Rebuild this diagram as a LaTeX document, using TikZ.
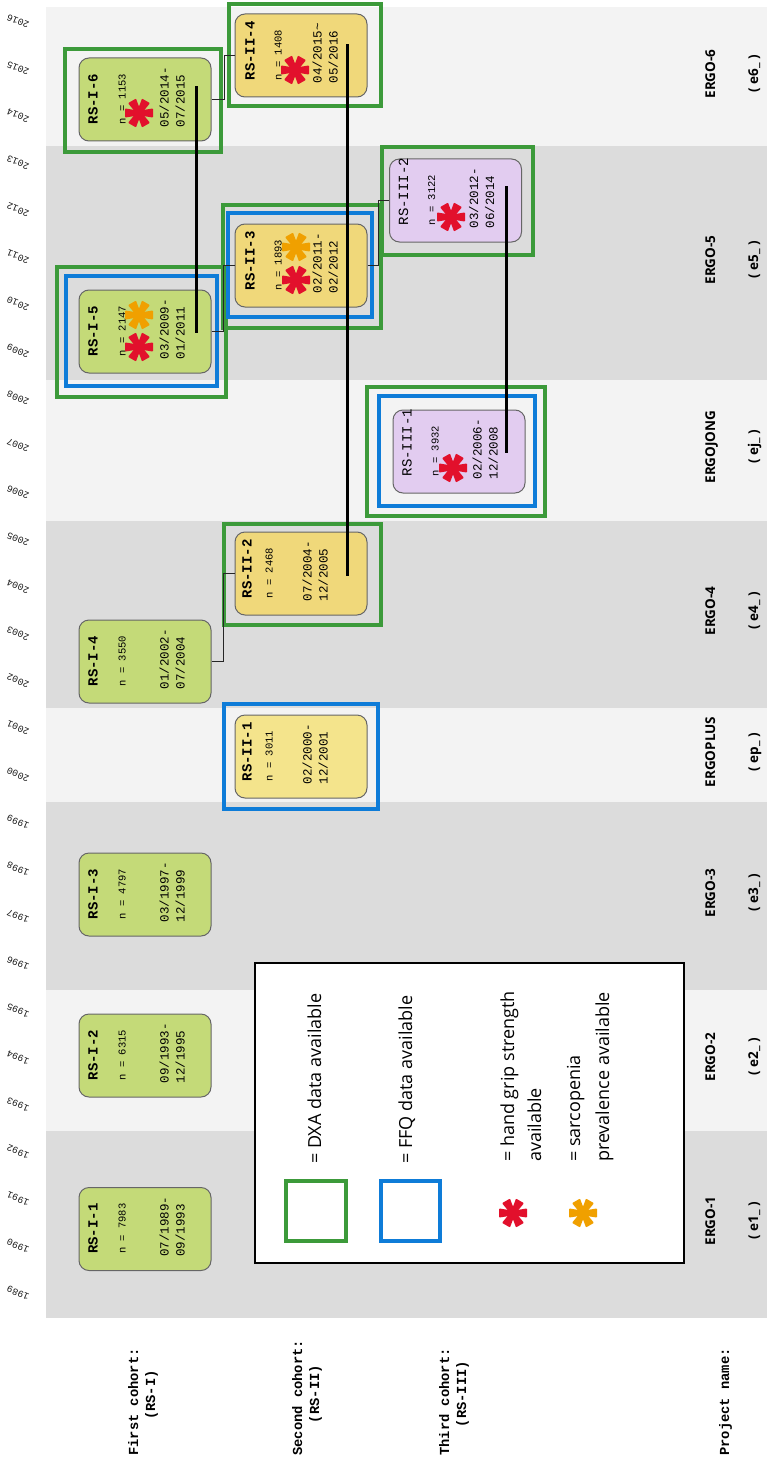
\documentclass[tikz,border=0pt]{standalone}
\usepackage{fontspec}
\setmonofont{Liberation Mono}
\newfontfamily\legendfont{Open Sans}
\usetikzlibrary{calc}
\definecolor{bandlight}{RGB}{243,243,243}
\definecolor{banddark}{RGB}{220,220,220}
\definecolor{rsIfill}{RGB}{196,218,120}
\definecolor{rsIIfill}{RGB}{240,216,122}
\definecolor{rsIIlight}{RGB}{244,228,140}
\definecolor{rsIIIfill}{RGB}{226,204,240}
\definecolor{dxagreen}{RGB}{60,154,58}
\definecolor{ffqblue}{RGB}{14,124,216}
\definecolor{gripred}{RGB}{226,16,44}
\definecolor{sarcoorange}{RGB}{240,160,0}
\tikzset{
  rsbox/.style={draw=black!60, line width=1pt, rounded corners=10pt,
    minimum width=132pt, minimum height=83pt, inner sep=0pt},
  boxtitle/.style={rotate=90, anchor=base west, inner sep=0pt,
    font=\ttfamily\bfseries\fontsize{14}{16}\selectfont},
  boxn/.style={rotate=90, anchor=base west, inner sep=0pt,
    font=\ttfamily\fontsize{10.5}{12}\selectfont},
  boxdate/.style={rotate=90, anchor=base west, inner sep=0pt,
    font=\ttfamily\fontsize{12.5}{14}\selectfont},
  yearlabel/.style={rotate=157, inner sep=0pt, text=black!90,
    font=\ttfamily\fontsize{9.6}{10}\selectfont},
  cohortlabel/.style={rotate=90, inner sep=0pt,
    font=\ttfamily\bfseries\fontsize{13.8}{16}\selectfont},
  projlabel/.style={rotate=90, anchor=base, inner sep=0pt,
    font=\legendfont\bfseries\fontsize{13.5}{16}\selectfont},
  legendtext/.style={rotate=90, anchor=base west, inner sep=0pt,
    font=\legendfont\fontsize{18}{22}\selectfont},
  dxa/.style={draw=dxagreen, line width=3.3pt},
  ffq/.style={draw=ffqblue, line width=3.3pt},
  elbow/.style={line width=1.2pt, black!85},
  cohortline/.style={line width=2.2pt, black},
  asterisk/.pic={
    \foreach \a in {0,60,...,300}
      \fill[rotate=\a, rounded corners=0.8pt] (0,-2.3) -- (14,-4.6) -- (14,4.6) -- (0,2.3) -- cycle;
  }
}
% line offsets inside a box
\def\offT{19}
\def\offN{47}
\def\offD{90}
\newcommand{\rsbox}[7]{%
  \node[rsbox, fill=#3] (#1) at (#2) {};
  \node[boxtitle] (#1-title) at ($(#1.south west)+(\offT,-17)$) {#4};
  \node[boxn] (#1-n) at ($(#1.south west)+(\offN,-17)$) {n = #5};
  \node[boxdate] (#1-d1) at ($(#1.south west)+(\offD,-14)$) {#6};
  \node[boxdate] (#1-d2) at ($(#1.south west)+(\offD+16,-14)$) {#7};
}

\begin{document}
\begin{tikzpicture}[x=1pt, y=-1pt]
  \useasboundingbox (0,0) rectangle (767,1458);

  % project bands
  \foreach \ya/\yb/\bandcol in {7/146/bandlight, 146/380/banddark, 380/521/bandlight,
      521/708/banddark, 708/802/bandlight, 802/990/banddark, 990/1131/bandlight, 1131/1318/banddark}
    \fill[\bandcol] (46,\ya) rectangle (767,\yb);

  % years
  \foreach \k in {0,...,27} {
    \pgfmathtruncatemacro{\yr}{1989+\k}
    \node[yearlabel] (y\yr) at (18,{1293-47.1*\k}) {\yr};
  }

  % project names
  \foreach \name/\code/\yc in {ERGO-1/e1/1221, ERGO-2/e2/1057, ERGO-3/e3/893, ERGOPLUS/ep/752,
      ERGO-4/e4/611, ERGOJONG/ej/447, ERGO-5/e5/260, ERGO-6/e6/74} {
    \node[projlabel] (p\code) at (715,\yc) {\name};
    \node[projlabel] (c\code) at (758,\yc) {( \code\_ )};
  }

  % cohort labels
  \node[cohortlabel, anchor=base west] (first) at (138,1456) {First cohort:};
  \node[cohortlabel, anchor=base] (firstrs) at (155,1395) {(RS-I)};
  \node[cohortlabel, anchor=base west] (second) at (302,1456) {Second cohort:};
  \node[cohortlabel, anchor=base] (secondrs) at (319,1394) {(RS-II)};
  \node[cohortlabel, anchor=base west] (third) at (449,1456) {Third cohort:};
  \node[cohortlabel, anchor=base] (thirdrs) at (466,1394) {(RS-III)};
  \node[cohortlabel, anchor=base west] (project) at (729,1456) {Project name:};

  % legend
  \draw[line width=2pt, fill=white] (255,963) rectangle (684,1263);
  \draw[dxa] (286,1181) rectangle (346,1241);
  \draw[ffq] (381,1181) rectangle (440,1241);
  \pic[gripred] at (513,1213) {asterisk};
  \pic[sarcoorange] at (583,1213) {asterisk};
  \node[legendtext] (lgdxa) at (321,1164) {= DXA data available};
  \node[legendtext] (lgffq) at (412,1164) {= FFQ data available};
  \node[legendtext] (lggrip) at (514,1162) {= hand grip strength};
  \node[legendtext] (lggrip2) at (541,1162) {available};
  \node[legendtext] (lgsarc) at (580,1162) {= sarcopenia};
  \node[legendtext] (lgsarc2) at (609,1162) {prevalence available};

  % DXA / FFQ frames
  \draw[dxa] (57,267) rectangle (226,397);
  \draw[dxa] (65,49) rectangle (221,152);
  \draw[dxa] (229,4) rectangle (381,106);
  \draw[dxa] (223,205) rectangle (381,328);
  \draw[dxa] (224,524) rectangle (381,625);
  \draw[dxa] (382,147) rectangle (533,255);
  \draw[dxa] (367,387) rectangle (545,516);
  \draw[ffq] (66,276) rectangle (217,386);
  \draw[ffq] (228,213) rectangle (372,317);
  \draw[ffq] (379,396) rectangle (535,506);
  \draw[ffq] (224,704) rectangle (378,809);

  % first cohort
  \rsbox{rsI1}{145,1229}{rsIfill}{RS-I-1}{7983}{07/1989-}{09/1993}
  \rsbox{rsI2}{145,1055.5}{rsIfill}{RS-I-2}{6315}{09/1993-}{12/1995}
  \rsbox{rsI3}{145,894.5}{rsIfill}{RS-I-3}{4797}{03/1997-}{12/1999}
  \rsbox{rsI4}{145,661.5}{rsIfill}{RS-I-4}{3550}{01/2002-}{07/2004}
  \rsbox{rsI5}{145,331.5}{rsIfill}{RS-I-5}{2147}{03/2009-}{01/2011}
  \rsbox{rsI6}{145,99.5}{rsIfill}{RS-I-6}{1153}{05/2014-}{07/2015}

  % third cohort
  \def\offT{19}\def\offN{46}\def\offD{89}
  \rsbox{rsIII1}{459,451.5}{rsIIIfill}{\mdseries RS-III-1}{3932}{02/2006-}{12/2008}
  \rsbox{rsIII2}{455.5,200.5}{rsIIIfill}{\mdseries RS-III-2}{3122}{03/2012-}{06/2014}

  % second cohort
  \def\offT{17}\def\offN{38}\def\offD{77}
  \rsbox{rsII1}{301,756.5}{rsIIlight}{RS-II-1}{3011}{02/2000-}{12/2001}
  \rsbox{rsII2}{301,573.5}{rsIIfill}{RS-II-2}{2468}{07/2004-}{12/2005}
  \def\offT{20}\def\offN{47}\def\offD{87}
  \rsbox{rsII3}{301,265.5}{rsIIfill}{RS-II-3}{1893}{02/2011-}{02/2012}
  \rsbox{rsII4}{301,55.5}{rsIIfill}{RS-II-4}{1408}{04/2015\textasciitilde}{05/2016}

  % follow-up connectors
  \draw[elbow] (rsI4.east) -- ++(12,0) |- (rsII2.west);
  \draw[elbow] (rsI5.east) -- ++(12,0) |- (rsII3.west);
  \draw[elbow] (rsI6.east) -- ++(13,0) |- (rsII4.west);
  \draw[elbow] (rsII3.east) -- ++(11,0) |- (rsIII2.west);

  % asterisks
  \pic[gripred] at (139,347) {asterisk};
  \pic[sarcoorange] at (139,315) {asterisk};
  \pic[gripred] at (139,113) {asterisk};
  \pic[gripred] at (296,280) {asterisk};
  \pic[sarcoorange] at (296,247) {asterisk};
  \pic[gripred] at (295,70) {asterisk};
  \pic[gripred] at (451,217) {asterisk};
  \pic[gripred] at (453,468) {asterisk};

  % same participants
  \coordinate (rsI6-end) at ($(rsI6.north east)+(-15,29)$);
  \coordinate (rsI5-end) at ($(rsI5.north east)+(-15,43)$);
  \draw[cohortline] (rsI6-end) -- (rsI5-end);
  \coordinate (rsII4-end) at ($(rsII4.north east)+(-20,31)$);
  \coordinate (rsII2-end) at ($(rsII2.north east)+(-20,44)$);
  \draw[cohortline] (rsII4-end) -- (rsII2-end);
  \coordinate (rsIII2-end) at ($(rsIII2.north east)+(-15.5,28)$);
  \coordinate (rsIII1-end) at ($(rsIII1.north east)+(-19,43)$);
  \draw[cohortline] (rsIII2-end) -- (rsIII1-end);
\end{tikzpicture}
\end{document}
